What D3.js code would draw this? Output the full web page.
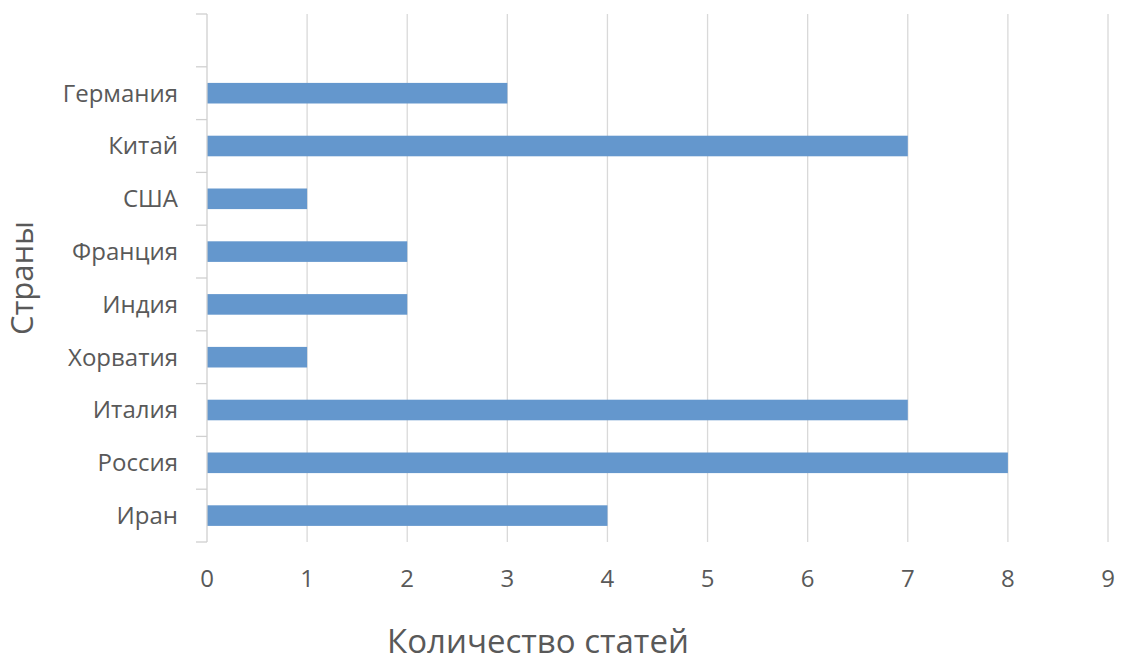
<!DOCTYPE html>
<html><head><meta charset="utf-8">
<script src="https://cdn.jsdelivr.net/npm/d3@7"></script>
<style>html,body{margin:0;padding:0;background:#fff;}</style>
</head><body>
<svg id="c" width="1122" height="662"></svg>
<script>
const categories = ["", "Германия", "Китай", "США", "Франция", "Индия", "Хорватия", "Италия", "Россия", "Иран"];
const values = [null, 3, 7, 1, 2, 2, 1, 7, 8, 4];
const xTicks = [0,1,2,3,4,5,6,7,8,9];
const xTitle = "Количество статей";
const yTitle = "Страны";

const svg = d3.select("#c");
const font = "'Open Sans', 'Noto Sans', sans-serif";
const x = d3.scaleLinear().domain([0, 9]).range([207, 1108]);
const y = d3.scaleBand().domain(categories.map((d,i)=>i)).range([14, 542]).paddingInner(0).paddingOuter(0);

// gridlines
svg.append("g").selectAll("line").data(xTicks.slice(1)).join("line")
  .attr("x1", d=>x(d)).attr("x2", d=>x(d)).attr("y1", 14).attr("y2", 542)
  .attr("stroke", "#d9d9d9").attr("stroke-width", 1.3);

// bars
const bh = y.bandwidth()*0.39;
svg.append("g").selectAll("rect").data(values.map((v,i)=>({v,i})).filter(d=>d.v!=null)).join("rect")
  .attr("x", x(0)).attr("y", d=>y(d.i)+y.bandwidth()/2-bh/2)
  .attr("width", d=>x(d.v)-x(0)).attr("height", bh)
  .attr("fill", "#6497cd");

// y axis line and ticks
const ga = svg.append("g");
ga.append("line").attr("x1", x(0)).attr("x2", x(0)).attr("y1", 14).attr("y2", 542)
  .attr("stroke", "#d0d0d0").attr("stroke-width", 1.3);
const bounds = categories.map((d,i)=>y(i)).concat([y(categories.length-1)+y.bandwidth()]);
ga.selectAll("line.t").data(bounds).join("line").attr("class","t")
  .attr("x1", x(0)-11).attr("x2", x(0)).attr("y1", d=>d).attr("y2", d=>d)
  .attr("stroke", "#d0d0d0").attr("stroke-width", 1.3);

// category labels
svg.append("g").selectAll("text").data(categories.map((c,i)=>({c,i})).filter(d=>d.c)).join("text")
  .attr("x", 178).attr("y", d=>y(d.i)+y.bandwidth()/2)
  .attr("dy", "0.35em").attr("text-anchor", "end")
  .attr("font-family", font).attr("font-size", 24).attr("fill", "#595959")
  .text(d=>d.c);

// x tick labels
svg.append("g").selectAll("text").data(xTicks).join("text")
  .attr("x", d=>x(d)).attr("y", 579).attr("dy", "0.35em").attr("text-anchor", "middle")
  .attr("font-family", font).attr("font-size", 24).attr("fill", "#595959")
  .text(d=>d);

// axis titles
svg.append("text").attr("x", 538).attr("y", 641).attr("dy","0.35em").attr("text-anchor","middle")
  .attr("font-family", font).attr("font-size", 33).attr("fill", "#595959").text(xTitle);
svg.append("text").attr("transform", "translate(22,278) rotate(-90)").attr("dy","0.35em").attr("text-anchor","middle")
  .attr("font-family", font).attr("font-size", 31).attr("fill", "#595959").text(yTitle);
</script>
</body></html>
